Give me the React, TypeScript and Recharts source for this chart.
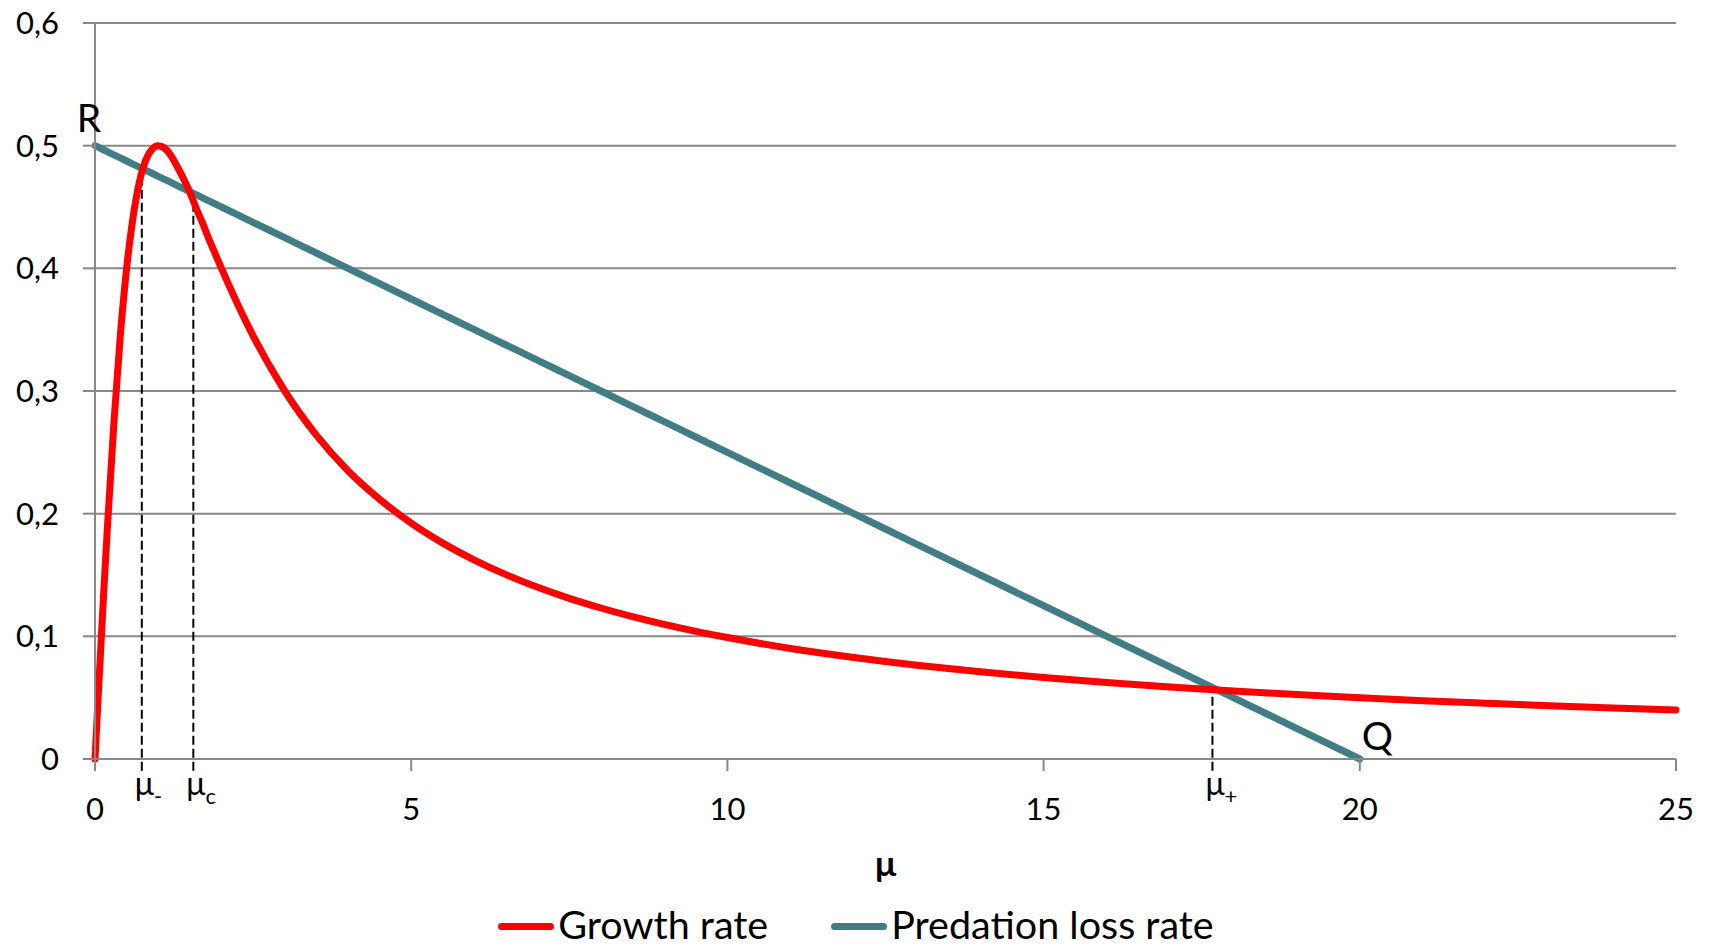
import React from 'react';
import {
  LineChart,
  Line,
  XAxis,
  YAxis,
  CartesianGrid,
  Legend,
  ReferenceLine,
  ReferenceDot,
} from 'recharts';

// ---- data ----
const muValues = [
  0, 0.05, 0.1, 0.15, 0.2, 0.3, 0.4, 0.5, 0.6, 0.7, 0.8, 0.9, 1.0, 1.1, 1.2, 1.3, 1.4, 1.5, 1.6, 1.7,
  1.8, 1.9, 2.0, 2.5, 3.0, 3.5, 4.0, 4.5, 5.0, 5.5, 6.0, 6.5, 7.0, 7.5, 8.0, 8.5, 9.0, 9.5, 10, 11,
  12, 13, 14, 15, 16, 17, 18, 19, 20, 21, 22, 23, 24, 25,
];
const growthRate = [
  0, 0.05, 0.099, 0.147, 0.192, 0.275, 0.345, 0.4, 0.441, 0.47, 0.488, 0.497, 0.5, 0.498, 0.492,
  0.483, 0.473, 0.462, 0.449, 0.437, 0.424, 0.412, 0.4, 0.345, 0.3, 0.264, 0.235, 0.2118, 0.1923,
  0.176, 0.1622, 0.1503, 0.14, 0.131, 0.1231, 0.116, 0.1097, 0.1041, 0.099, 0.0901, 0.0828,
  0.0765, 0.0711, 0.0664, 0.0623, 0.0587, 0.0554, 0.0525, 0.0499, 0.0475, 0.0454, 0.0434, 0.0416,
  0.04,
];
const predationLossRate = [
  0.5, 0.49875, 0.4975, 0.49625, 0.495, 0.4925, 0.49, 0.4875, 0.485, 0.4825, 0.48, 0.4775, 0.475,
  0.4725, 0.47, 0.4675, 0.465, 0.4625, 0.46, 0.4575, 0.455, 0.4525, 0.45, 0.4375, 0.425, 0.4125,
  0.4, 0.3875, 0.375, 0.3625, 0.35, 0.3375, 0.325, 0.3125, 0.3, 0.2875, 0.275, 0.2625, 0.25, 0.225,
  0.2, 0.175, 0.15, 0.125, 0.1, 0.075, 0.05, 0.025, 0, null, null, null, null, null,
];
const seriesNames = ['Growth rate', 'Predation loss rate'];
const xTicks = [0, 5, 10, 15, 20, 25];
const yTicks = [0, 0.1, 0.2, 0.3, 0.4, 0.5, 0.6];
const markerMu = [0.74, 1.555, 17.67];
const markerTop = [0.4815, 0.461, 0.058];
const markerSub = ['-', 'c', '+'];
const pointText = ['R', 'Q'];
const pointMu = [0, 20];
const pointValue = [0.5, 0];

const data = muValues.map((mu, i) => ({
  mu,
  growth: growthRate[i],
  predation: predationLossRate[i],
}));

const FONT = 'Lato, "Noto Sans", sans-serif';
const RED = '#FF0000';
const TEAL = '#417E83';
const GRID = '#888888';

const YTick = (props: any) => {
  const { x, y, payload } = props;
  return (
    <text x={x - 1} y={y + 11} textAnchor="end" fontFamily={FONT} fontSize={31} fill="#000">
      {String(payload.value).replace('.', ',')}
    </text>
  );
};

const XTick = (props: any) => {
  const { x, y, payload } = props;
  return (
    <text x={x} y={y + 1} textAnchor="middle" fontFamily={FONT} fontSize={31} fill="#000">
      {payload.value}
    </text>
  );
};

const XLabel = (props: any) => {
  const vb = props.viewBox || {};
  return (
    <text
      x={vb.x + vb.width / 2}
      y={vb.y + 117}
      textAnchor="middle"
      fontFamily={FONT}
      fontWeight="bold"
      fontSize={35}
      fill="#000"
    >
      μ
    </text>
  );
};

const LegendContent = () => {
  const colors = [RED, TEAL];
  return (
    <div
      style={{
        display: 'flex',
        justifyContent: 'center',
        height: 40,
        paddingLeft: 36,
        fontFamily: FONT,
      }}
    >
      {seriesNames.map((n, i) => (
        <div key={n} style={{ display: 'flex', alignItems: 'flex-start', marginRight: i === 0 ? 63 : 0 }}>
          <div
            style={{
              width: 56,
              height: 7,
              borderRadius: 4,
              background: colors[i],
              marginTop: 19,
              marginRight: 4,
            }}
          />
          <span style={{ fontSize: 39.5, lineHeight: '40px', color: '#000', whiteSpace: 'nowrap' }}>{n}</span>
        </div>
      ))}
    </div>
  );
};

const MarkerLabel = (sub: string) => (props: any) => {
  const { cx, cy } = props;
  return (
    <text x={cx - 7} y={cy + 36} fontFamily={FONT} fill="#000">
      <tspan fontSize={32}>μ</tspan>
      <tspan fontSize={22} dy={9}>
        {sub}
      </tspan>
    </text>
  );
};

const PointLabel = (t: string, dx: number, dy: number, anchor: string) => (props: any) => {
  const { cx, cy } = props;
  return (
    <text x={cx + dx} y={cy + dy} textAnchor={anchor as any} fontFamily={FONT} fontSize={39} fill="#000">
      {t}
    </text>
  );
};

export default function App() {
  return (
    <div style={{ position: 'absolute', left: 0, top: 0, width: 1712, height: 946, background: '#fff' }}>
      <LineChart
        width={1712}
        height={946}
        data={data}
        margin={{ top: 23, right: 36, left: 0, bottom: 2 }}
      >
        <CartesianGrid horizontal vertical={false} stroke={GRID} strokeWidth={2} />
        <XAxis
          dataKey="mu"
          type="number"
          domain={[0, 25]}
          ticks={xTicks}
          interval={0}
          height={145}
          tickSize={12}
          tickMargin={48}
          axisLine={{ stroke: GRID, strokeWidth: 2 }}
          tickLine={{ stroke: GRID, strokeWidth: 2 }}
          tick={<XTick />}
          label={<XLabel />}
        />
        <YAxis
          type="number"
          domain={[0, 0.6]}
          ticks={yTicks}
          interval={0}
          width={95}
          tickSize={12}
          tickMargin={23}
          axisLine={{ stroke: GRID, strokeWidth: 2 }}
          tickLine={{ stroke: GRID, strokeWidth: 2 }}
          tick={<YTick />}
        />
        <Legend verticalAlign="bottom" align="center" height={40} content={<LegendContent />} />
        {markerMu.map((m, i) => (
          <ReferenceLine
            key={'seg' + i}
            segment={[
              { x: m, y: -0.0095 },
              { x: m, y: markerTop[i] },
            ]}
            stroke="#000"
            strokeWidth={2}
            strokeDasharray="9 4"
            ifOverflow="visible"
          />
        ))}
        <Line
          type="monotone"
          dataKey="predation"
          name={seriesNames[1]}
          stroke={TEAL}
          strokeWidth={7}
          strokeLinecap="round"
          dot={false}
          activeDot={false}
          isAnimationActive={false}
        />
        <Line
          type="monotone"
          dataKey="growth"
          name={seriesNames[0]}
          stroke={RED}
          strokeWidth={7}
          strokeLinecap="round"
          dot={false}
          activeDot={false}
          isAnimationActive={false}
        />
        {markerMu.map((m, i) => (
          <ReferenceDot
            key={'ml' + i}
            x={m}
            y={0}
            r={0}
            ifOverflow="visible"
            shape={MarkerLabel(markerSub[i])}
          />
        ))}
        <ReferenceDot
          x={pointMu[0]}
          y={pointValue[0]}
          r={0}
          ifOverflow="visible"
          shape={PointLabel(pointText[0], -6, -14, 'middle')}
        />
        <ReferenceDot
          x={pointMu[1]}
          y={pointValue[1]}
          r={0}
          ifOverflow="visible"
          shape={PointLabel(pointText[1], 2, -9, 'start')}
        />
      </LineChart>
    </div>
  );
}
